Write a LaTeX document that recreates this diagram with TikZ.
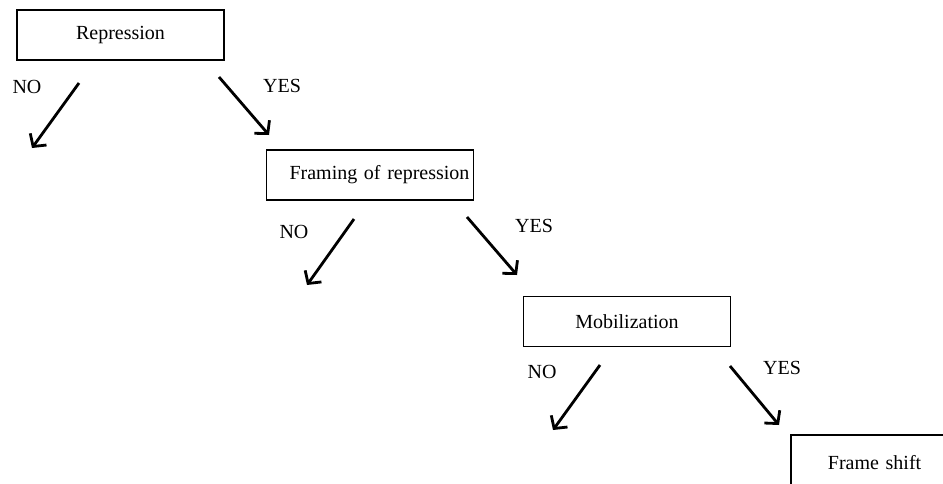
\documentclass[tikz,border=0pt]{standalone}
\usepackage{fontspec}
\setmainfont{Liberation Serif}
\usetikzlibrary{arrows.meta}

\begin{document}
\begin{tikzpicture}[x=0.5pt, y=-0.5pt,
  mybox/.style={draw, line width=0.9pt, minimum width=103.5pt, minimum height=25pt, font=\fontsize{10}{12}\selectfont},
  mylabel/.style={inner sep=0pt, font=\fontsize{10}{12}\selectfont},
  myarrow/.style={line width=1.4pt, -{Straight Barb[length=4.5pt,width=10pt,line width=1.4pt]}}]
%page
  \clip (0,0) rectangle (943,483);

%boxes
  \node[mybox] (R) at (120.5,35) {Repression};
  \node[mybox, text width=99.5pt, inner xsep=2pt, align=right] (F) at (370,175) {Framing of repression};
  \node[mybox] (M) at (627,321.5) {Mobilization};
  \node[mybox, anchor=north west, text width=90pt, inner xsep=18.5pt, align=left, minimum height=28pt] (S) at (790,434) {Frame shift};

%answers
  \node[mylabel] (RNo) at (27,87) {NO};
  \node[mylabel] (RYes) at (282,86) {YES};
  \node[mylabel] (FNo) at (294,232) {NO};
  \node[mylabel] (FYes) at (534,226) {YES};
  \node[mylabel] (MNo) at (542,372) {NO};
  \node[mylabel] (MYes) at (782,368) {YES};

%arrow ends
  \coordinate (r1) at (79,83);   \coordinate (r2) at (32,148);
  \coordinate (r3) at (219,77);  \coordinate (r4) at (269,135);
  \coordinate (f1) at (354,219); \coordinate (f2) at (307,285);
  \coordinate (f3) at (467,217); \coordinate (f4) at (517,275);
  \coordinate (m1) at (600,365); \coordinate (m2) at (553,430);
  \coordinate (m3) at (730,366); \coordinate (m4) at (779,425);

  \draw[myarrow] (r1) -- (r2);
  \draw[myarrow] (r3) -- (r4);
  \draw[myarrow] (f1) -- (f2);
  \draw[myarrow] (f3) -- (f4);
  \draw[myarrow] (m1) -- (m2);
  \draw[myarrow] (m3) -- (m4);
\end{tikzpicture}
\end{document}
